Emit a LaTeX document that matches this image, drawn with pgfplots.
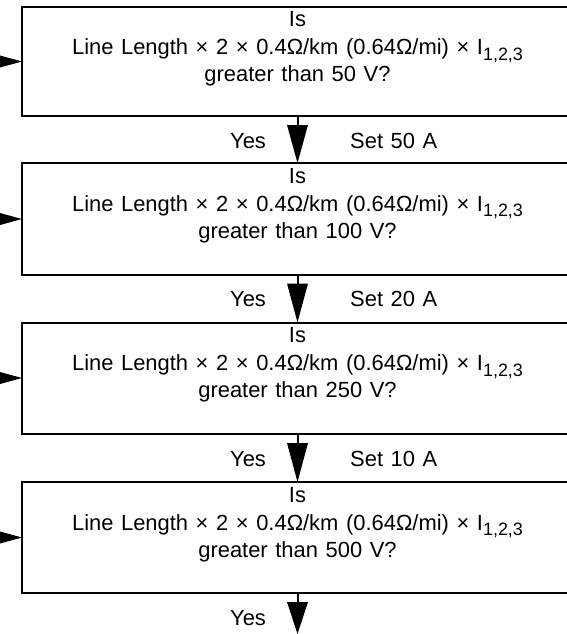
\documentclass[border=0pt]{standalone}
\usepackage{pgfplots}
\pgfplotsset{compat=1.18}
\usepackage{fontspec}
\setmainfont{Liberation Sans}
\newcommand{\sub}[1]{\raisebox{-5.5bp}{\fontsize{18}{18}\selectfont #1}}
\newcommand{\body}{\fontsize{22}{24}\selectfont\spaceskip=7.6bp\relax}
\begin{document}
\begin{tikzpicture}
\begin{axis}[
  width=567bp, height=634bp, scale only axis,
  xmin=0, xmax=567, ymin=0, ymax=634, y dir=reverse,
  hide axis, clip=true,
]
% boxes (open at the right edge of the picture)
\addplot[black, line width=2bp, mark=none] coordinates {(567,7) (22,7) (22,116) (567,116)};
\addplot[black, line width=2bp, mark=none] coordinates {(567,163) (22,163) (22,274.5) (567,274.5)};
\addplot[black, line width=2bp, mark=none] coordinates {(567,322.5) (22,322.5) (22,434) (567,434)};
\addplot[black, line width=2bp, mark=none] coordinates {(567,482) (22,482) (22,593) (567,593)};
% left incoming arrow heads
\addplot[fill=black, draw=none, mark=none] coordinates {(0,55.5) (22,61.5) (0,67.5)};
\addplot[fill=black, draw=none, mark=none] coordinates {(0,213) (22,219) (0,225)};
\addplot[fill=black, draw=none, mark=none] coordinates {(0,372) (22,378) (0,384)};
\addplot[fill=black, draw=none, mark=none] coordinates {(0,531.5) (22,537.5) (0,543.5)};
% down arrows: stems
\addplot[black, line width=2bp, mark=none] coordinates {(297.5,116) (297.5,127)};
\addplot[black, line width=2bp, mark=none] coordinates {(297.5,274.5) (297.5,285)};
\addplot[black, line width=2bp, mark=none] coordinates {(297.5,434) (297.5,445)};
\addplot[black, line width=2bp, mark=none] coordinates {(297.5,593) (297.5,604)};
% down arrows: heads
\addplot[fill=black, draw=none, mark=none] coordinates {(287,125) (308,125) (297.5,163)};
\addplot[fill=black, draw=none, mark=none] coordinates {(287,283.5) (308,283.5) (297.5,322.5)};
\addplot[fill=black, draw=none, mark=none] coordinates {(287,443) (308,443) (297.5,482)};
\addplot[fill=black, draw=none, mark=none] coordinates {(287,602) (308,602) (297.5,634)};
% box texts
\foreach \t/\v in {7/50,163/100,322.5/250,482/500}{
  \edef\temp{\noexpand\node[anchor=base, inner sep=0pt] at (axis cs:297.5,\t+20) {\noexpand\body Is};
  \noexpand\node[anchor=base, inner sep=0pt] at (axis cs:297.5,\t+48) {\noexpand\body Line Length × 2 × 0.4Ω/km (0.64Ω/mi) × I\noexpand\sub{1,2,3}};
  \noexpand\node[anchor=base, inner sep=0pt] at (axis cs:297.5,\t+75) {\noexpand\body greater than \v\ V?};}
  \temp
}
% Yes / Set labels
\node[anchor=base, inner sep=0pt] at (axis cs:248,148) {\body Yes};
\node[anchor=base, inner sep=0pt] at (axis cs:248,306.5) {\body Yes};
\node[anchor=base, inner sep=0pt] at (axis cs:248,466) {\body Yes};
\node[anchor=base, inner sep=0pt] at (axis cs:248,625) {\body Yes};
\node[anchor=base west, inner sep=0pt] at (axis cs:350,148) {\body Set 50 A};
\node[anchor=base west, inner sep=0pt] at (axis cs:350,306.5) {\body Set 20 A};
\node[anchor=base west, inner sep=0pt] at (axis cs:350,466) {\body Set 10 A};
\end{axis}
\pgfresetboundingbox
\useasboundingbox (current axis.south west) rectangle (current axis.north east);
\end{tikzpicture}
\end{document}
